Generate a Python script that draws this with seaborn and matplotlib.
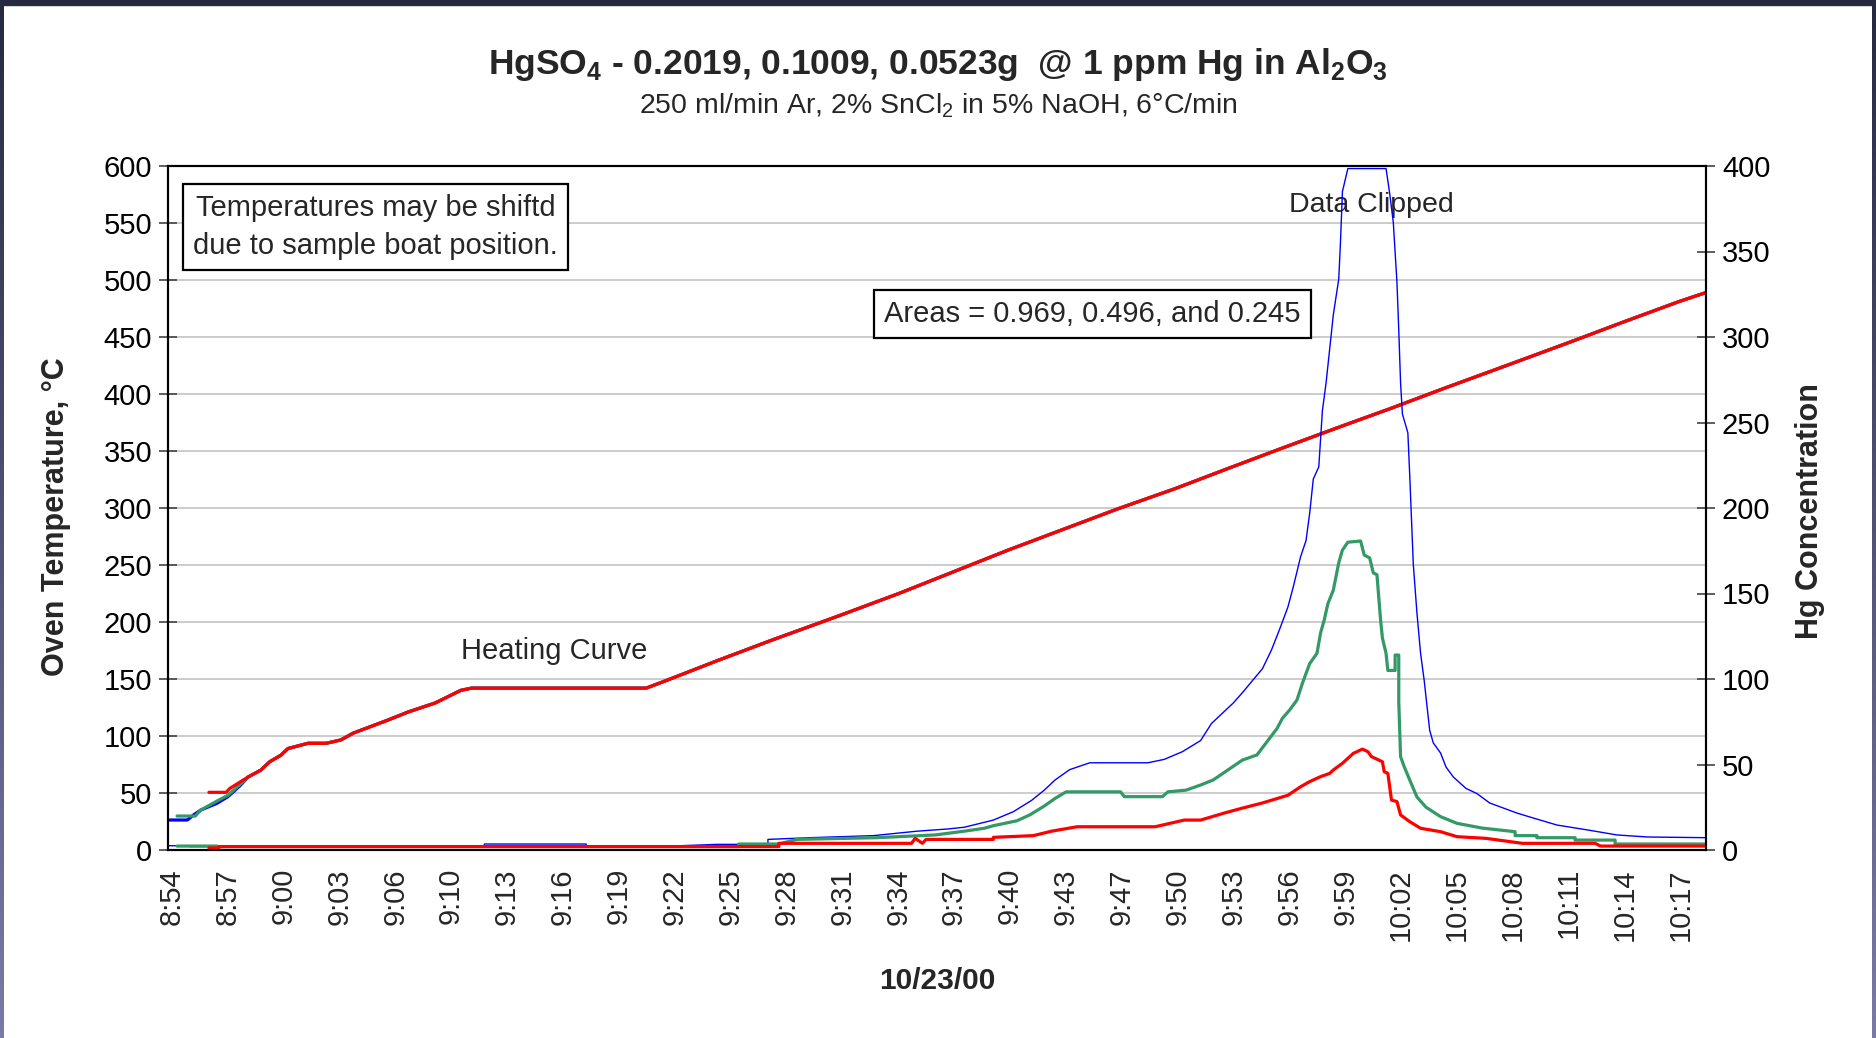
import numpy as np
import pandas as pd
import matplotlib
matplotlib.use("Agg")
import matplotlib.pyplot as plt
import seaborn as sns

# x values are minutes after 8:54 (Excel category ticks every ~3.07 min)
tick_labels = ['8:54', '8:57', '9:00', '9:03', '9:06', '9:10', '9:13', '9:16', '9:19',
               '9:22', '9:25', '9:28', '9:31', '9:34', '9:37', '9:40', '9:43', '9:47',
               '9:50', '9:53', '9:56', '9:59', '10:02', '10:05', '10:08', '10:11',
               '10:14', '10:17']
tick_step = 83 / 27

# oven temperature, shared ramp once the three runs merge
ramp_t = [4.2, 4.9, 5.4, 6.0, 6.4, 7.5, 8.5, 9.3, 10.0, 10.9, 11.9, 13.0, 14.5, 15.9,
          16.5, 26.1, 27.1, 30, 33, 36.8, 40, 43, 46, 49, 52, 55.2, 58, 61, 64.4, 67,
          70, 73.6, 77, 80, 82.9, 84.4]
ramp_c = [64, 70, 77.5, 83, 89, 93.6, 93.6, 96.5, 102.6, 108, 114, 121, 129, 140,
          142, 142, 148, 166, 184, 206, 225, 244, 263, 281, 299, 317, 334, 352, 372, 387,
          405, 426, 446, 464, 481, 489]

blue_temp_t = [-0.2, 0.86, 1.0, 1.2, 1.6, 2.5, 3.1, 3.8]
blue_temp = [26.3, 26.3, 28, 30.7, 35, 41, 46.8, 57]
green_temp_t = [0.3, 1.3, 1.6, 2.5, 3.1, 3.8]
green_temp = [29.8, 29.8, 35, 43, 48, 58]
red_temp_t = [2.05, 3.0, 3.2, 3.8]
red_temp = [50.6, 50.6, 54, 60]

# Hg concentration for the three sample weights (blue clipped at the top)
blue_hg_t = [-0.2, 1.0, 1.0, 17.2, 17.2, 22.8, 22.8, 28.0, 30.0, 32.8, 32.8, 35.1, 38.6,
             41.0, 42.7, 43.6, 45.2, 46.3, 47.3, 48.0, 48.6, 49.4, 50.5, 53.7, 54.6, 55.6,
             56.6, 57.2, 57.8, 58.4, 58.9, 59.4, 60.0, 60.5, 61.0, 61.4, 61.7, 62.1, 62.4,
             62.6, 62.8, 63.1, 63.3, 63.5, 63.9, 64.2, 64.3, 64.4, 64.7, 66.8, 67.0, 67.2,
             67.4, 67.5, 67.6, 67.7, 68.0, 68.1, 68.3, 68.5, 68.7, 68.9, 69.2, 69.4, 69.8,
             70.1, 70.5, 71.2, 71.8, 72.5, 74.0, 74.9, 76.2, 77.9, 79.5, 81.2, 84.4]
blue_hg = [2.5, 2.5, 2.0, 2.0, 3.5, 3.5, 2.0, 2.5, 3.3, 3.3, 6.2, 7.2, 8.4,
           11, 12.3, 13.3, 17.5, 22.4, 29, 35, 41, 47, 51, 51, 53, 57.5,
           64, 74, 80, 86, 92, 98.4, 106, 117, 130.6, 142, 154, 171.5, 181,
           197, 217, 224, 257, 273, 313, 334, 357, 385, 398.5, 398.5, 384, 367,
           332, 304, 273, 255, 244, 220, 167, 138.6, 115, 99, 70, 62.6, 56.7,
           48.5, 42.7, 36, 33, 27.5, 21.6, 18.7, 14.6, 11.7, 8.8, 7.6, 7.2]

green_hg_t = [0.3, 2.5, 2.5, 31.2, 31.2, 33.4, 34.4, 38.8, 42.0, 43.6, 44.7, 45.2, 46.5,
              47.2, 48.0, 48.6, 49.2, 52.2, 52.4, 54.5, 54.8, 55.8, 56.6, 57.3, 58.1, 58.9,
              59.7, 60.2, 60.8, 61.1, 61.5, 61.9, 62.2, 62.6, 63.0, 63.2, 63.4, 63.6, 63.9,
              64.2, 64.4, 64.7, 65.4, 65.6, 65.9, 66.1, 66.3, 66.5, 66.6, 66.8, 66.9, 67.3,
              67.3, 67.5, 67.5, 67.6, 67.8, 68.1, 68.5, 69.0, 69.8, 70.7, 72.1, 73.9, 73.9,
              75.1, 75.1, 77.2, 77.2, 79.4, 79.4, 84.4]
green_hg = [2.3, 2.3, 2.0, 2.0, 3.5, 3.5, 6.2, 7.2, 8.8, 11, 12.7, 14.2, 17.1,
            20.5, 25.7, 30.2, 34, 34, 31.2, 31.2, 34, 35, 38, 41, 46.8, 52.6,
            55.6, 62.6, 71, 77, 81.9, 87.7, 97.5, 109, 115, 127, 134.5, 144, 152,
            168, 175.4, 180, 180.7, 172.5, 170.8, 162, 161, 134.5, 124, 115, 105, 105,
            114, 114, 86.7, 54.6, 48.7, 41, 31, 25, 19.5, 15.6, 12.8, 10.7, 8.4,
            8.4, 7.2, 7.2, 5.8, 5.8, 3.5, 3.5]

red_hg_t = [2.05, 2.6, 2.6, 33.4, 33.4, 40.7, 40.9, 41.3, 41.5, 45.2, 45.2, 47.4, 48.4,
            49.8, 54.1, 55.7, 56.6, 57.9, 58.9, 60.0, 61.4, 62.1, 62.6, 63.2, 63.7, 63.9,
            64.4, 65.0, 65.5, 65.8, 66.0, 66.6, 66.7, 66.9, 67.1, 67.4, 67.6, 68.1, 68.7,
            69.8, 70.7, 72.3, 74.3, 78.3, 78.6, 84.4]
red_hg = [1.2, 1.2, 2.0, 2.0, 3.9, 3.9, 6.8, 3.9, 6.2, 6.2, 7.4, 8.4, 11,
          13.6, 13.6, 17.5, 17.5, 21.6, 24.5, 27.5, 32, 37, 40, 42.9, 44.8, 46.8,
          50.7, 56.5, 59, 57.5, 54.6, 51.6, 45.8, 44.8, 29.2, 28.3, 20.5, 16.6, 12.7,
          10.7, 7.8, 6.8, 3.9, 3.9, 2.3, 2.3]

BLUE = '#0000ff'
GREEN = '#339966'
RED = '#ff0000'

sns.set_theme(style="white")
plt.rcParams['font.family'] = ['Liberation Sans', 'DejaVu Sans']
plt.rcParams['mathtext.fontset'] = 'custom'
plt.rcParams['mathtext.rm'] = 'Liberation Sans'
plt.rcParams['mathtext.bf'] = 'Liberation Sans:bold'

fig = plt.figure(figsize=(18.76, 10.38), dpi=100)
fig.patch.set_facecolor('white')
ax = fig.add_axes([168 / 1876, 188 / 1038, 1538 / 1876, 684 / 1038])
ax2 = ax.twinx()

# temperature curves (left axis)
for tt, tc, col in [(blue_temp_t, blue_temp, BLUE), (green_temp_t, green_temp, GREEN),
                    (red_temp_t, red_temp, RED)]:
    df = pd.DataFrame({'t': tt + ramp_t, 'c': tc + ramp_c})
    sns.lineplot(data=df, x='t', y='c', ax=ax, color=col, lw=2.3,
                 sort=False, estimator=None)

# Hg concentration (right axis)
for tt, hv, col, lw in [(blue_hg_t, blue_hg, BLUE, 1.0), (green_hg_t, green_hg, GREEN, 2.3),
                        (red_hg_t, red_hg, RED, 2.3)]:
    df = pd.DataFrame({'t': tt, 'hg': hv})
    sns.lineplot(data=df, x='t', y='hg', ax=ax2, color=col, lw=lw,
                 sort=False, estimator=None)

ax.set_xlim(-0.2, 84.4)
ax.set_ylim(0, 600)
ax2.set_ylim(0, 400)
ax.set_yticks(np.arange(0, 601, 50))
ax2.set_yticks(np.arange(0, 401, 50))
ax.set_xticks(np.arange(len(tick_labels)) * tick_step)
ax.set_xticklabels(tick_labels, rotation=90)

ax.yaxis.grid(True, color='#c8c8c8', lw=1.3)
ax.xaxis.grid(False)
ax.set_axisbelow(True)
for a in (ax, ax2):
    for s in a.spines.values():
        s.set_color('black')
        s.set_linewidth(1.5)
ax.tick_params(axis='y', direction='inout', length=13, width=1.2, colors='#444444',
               labelcolor='black', labelsize=21, pad=5)
ax2.tick_params(axis='y', direction='inout', length=13, width=1.2, colors='#444444',
                labelcolor='black', labelsize=21, pad=5)
ax.tick_params(axis='x', length=0, labelsize=21, pad=13)

ax.set_xlabel('')
ax.set_ylabel('')
ax2.set_ylabel('')

fig.text(0.5, 0.938, r'HgSO$_\mathbf{4}$ - 0.2019, 0.1009, 0.0523g  @ 1 ppm Hg in Al$_\mathbf{2}$O$_\mathbf{3}$',
         ha='center', va='center', fontsize=25.5, fontweight='bold')
fig.text(0.5, 0.898, r'250 ml/min Ar, 2% SnCl$_\mathrm{2}$ in 5% NaOH, 6°C/min',
         ha='center', va='center', fontsize=20.5)
fig.text(0.4995, 0.055, '10/23/00', ha='center', va='center', fontsize=21.5, fontweight='bold')
fig.text(0.030, 0.502, 'Oven Temperature, °C', ha='center', va='center', rotation=90,
         fontsize=22, fontweight='bold')
fig.text(0.965, 0.508, 'Hg Concentration', ha='center', va='center', rotation=90,
         fontsize=22, fontweight='bold')

box = dict(boxstyle='square,pad=0.35', facecolor='white', edgecolor='black', lw=1.6)
ax2.text(0.135, 0.911, 'Temperatures may be shiftd\ndue to sample boat position.',
         transform=ax2.transAxes, ha='center', va='center', fontsize=21,
         linespacing=1.45, bbox=box)
ax2.text(0.601, 0.784, 'Areas = 0.969, 0.496, and 0.245', transform=ax2.transAxes,
         ha='center', va='center', fontsize=21, bbox=box)
ax.text(21.05, 174.6, 'Heating Curve', ha='center', va='center', fontsize=21)
ax.text(66.0, 566, 'Data Clipped', ha='center', va='center', fontsize=20.5)

# slide frame around the chart
grad = np.linspace(0, 1, 256).reshape(-1, 1)
cmap = matplotlib.colors.LinearSegmentedColormap.from_list('frame', ['#262a40', '#7a7aa8'])
for x0 in (0, 1872 / 1876):
    fa = fig.add_axes([x0, 0, 4 / 1876, 1])
    fa.imshow(grad, aspect='auto', cmap=cmap, origin='upper')
    fa.axis('off')
fig.patches.append(matplotlib.patches.Rectangle((0, 1 - 5 / 1038), 1, 5 / 1038,
                                                transform=fig.transFigure,
                                                color='#262a40', zorder=10))

fig.savefig('out.png', dpi=100)
